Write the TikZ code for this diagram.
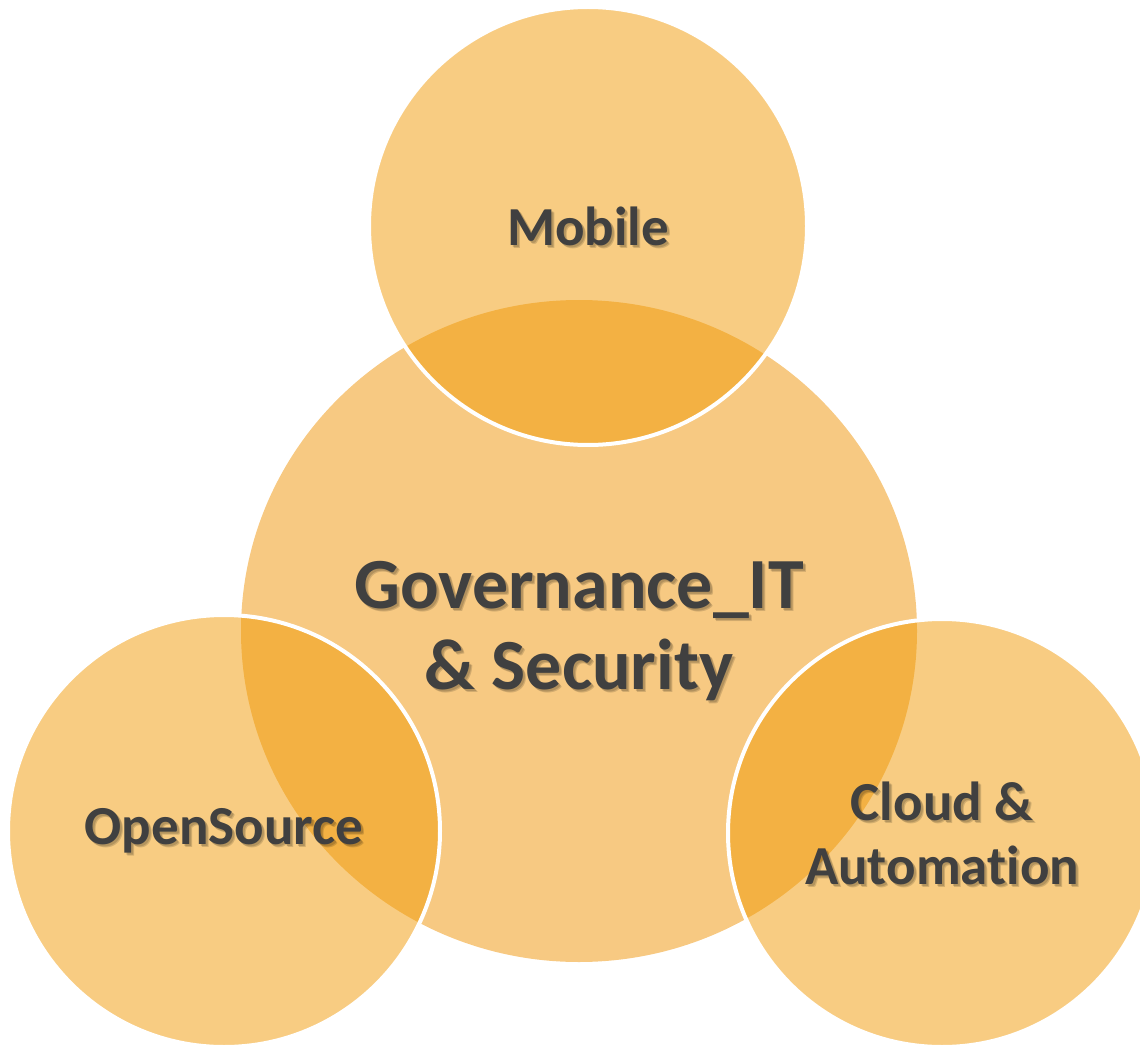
\documentclass[tikz,border=0pt]{standalone}
\usepackage{fontspec}
\setmainfont{Carlito}[Ligatures=NoCommon]
\usetikzlibrary{positioning, shapes.geometric}
\definecolor{orangeLight}{RGB}{247,201,130}
\definecolor{orangeBase}{RGB}{241,154,6}
\definecolor{textGray}{RGB}{64,64,64}
\begin{document}
\begin{tikzpicture}[x=1pt, y=-1pt,
  bigdisc/.style={ellipse, fill=orangeLight, inner sep=0pt, minimum width=676pt, minimum height=662pt},
  disc/.style={circle, fill=orangeBase, fill opacity=0.5, draw=white, line width=4pt, inner sep=0pt},
  lbl/.style={font=\fontsize{55}{64}\selectfont\bfseries, text=textGray, align=center},
  biglbl/.style={lbl, font=\fontsize{72}{81}\selectfont\bfseries},
  shade/.style={text=black, text opacity=0.15}]
\useasboundingbox (0,0) rectangle (1140,1048);
\node[bigdisc] (gov) at (579,631) {};
\node[disc, minimum size=438pt] (mob) at (588,226) {};
\node[disc, minimum size=432pt] (open) at (224,831) {};
\node[disc, minimum size=428pt] (cloud) at (942,833) {};
\foreach \n/\s/\t in {gov/biglbl/{Governance\_IT\\\& Security}, mob/lbl/Mobile, open/lbl/OpenSource, cloud/lbl/{Cloud \&\\Automation}} {
  \node[\s, shade] at ([shift={(3,3)}]\n) {\t};
  \node[\s, shade] at ([shift={(2,2)}]\n) {\t};
  \node[\s] (\n-t) at (\n) {\t};
}
\end{tikzpicture}
\end{document}
